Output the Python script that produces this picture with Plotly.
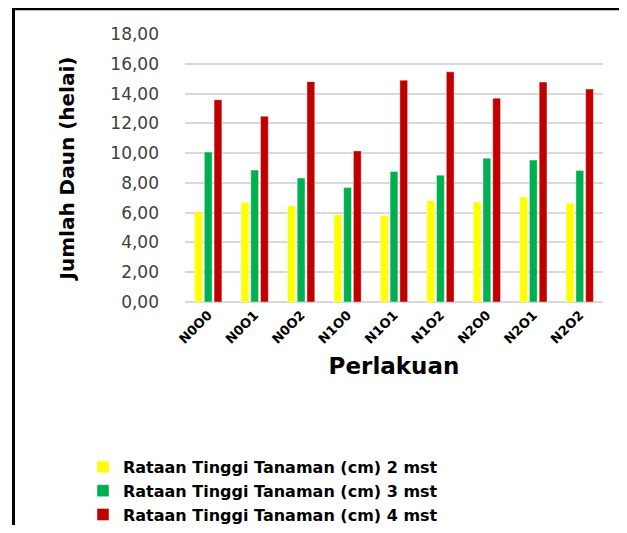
import plotly.graph_objects as go

categories = ["N0O0", "N0O1", "N0O2", "N1O0", "N1O1", "N1O2", "N2O0", "N2O1", "N2O2"]
mst2 = [6.07, 6.70, 6.46, 5.85, 5.78, 6.81, 6.72, 7.05, 6.65]
mst3 = [10.07, 8.86, 8.32, 7.69, 8.76, 8.52, 9.66, 9.53, 8.83]
mst4 = [13.58, 12.48, 14.80, 10.15, 14.90, 15.46, 13.69, 14.77, 14.30]
series_names = ["Rataan Tinggi Tanaman (cm) 2 mst",
                "Rataan Tinggi Tanaman (cm) 3 mst",
                "Rataan Tinggi Tanaman (cm) 4 mst"]
colors = ["#FFFF00", "#00B050", "#C00000"]
y_ticks = [0, 2, 4, 6, 8, 10, 12, 14, 16, 18]

# figure sits inside the page body (8px default margin)
W, H = 611, 517
L, R, T, B = 177, 16, 26, 223
pw = W - L - R
ph = H - T - B

def px(x):
    return (x - L) / pw

def py(y):
    return (H - B - y) / ph

FONT = "DejaVu Sans"

fig = go.Figure()
for name, vals, c in zip(series_names, [mst2, mst3, mst4], colors):
    fig.add_trace(go.Bar(x=categories, y=vals, name=name,
                         marker=dict(color=c, line=dict(color="rgba(255,255,255,0.7)", width=0.6))))

fig.update_layout(
    width=W, height=H,
    margin=dict(l=L, r=R, t=T, b=B, pad=0, autoexpand=False),
    paper_bgcolor="white", plot_bgcolor="white",
    separators=",.",
    barmode="group", bargap=0.37, bargroupgap=0.2,
    font=dict(family=FONT, color="#000000"),
    showlegend=True,
    legend=dict(x=px(75), y=py(442), xanchor="left", yanchor="top",
                orientation="v", traceorder="normal",
                font=dict(family=FONT, size=16, color="#000000", weight="bold"),
                itemwidth=30, bgcolor="rgba(0,0,0,0)"),
    xaxis=dict(tickangle=-45, showgrid=False, showline=False, ticks="",
               ticklabelstandoff=2,
               tickfont=dict(family=FONT, size=13, color="#000000", weight="bold"),
               title=dict(text="Perlakuan", standoff=12,
                          font=dict(family=FONT, size=23, color="#000000", weight="bold"))),
    yaxis=dict(range=[0, 18], tickvals=y_ticks, tickformat=".2f",
               showgrid=True, gridcolor="#D9D9D9", gridwidth=1.5,
               zeroline=True, zerolinecolor="#D9D9D9", zerolinewidth=1.5,
               showline=False, ticks="", ticklabelstandoff=25,
               tickfont=dict(family=FONT, size=17, color="#404040"),
               title=dict(text="Jumlah Daun (helai)", standoff=30,
                          font=dict(family=FONT, size=20, color="#000000", weight="bold"))),
    shapes=[
        dict(type="line", xref="paper", yref="paper", x0=px(4), x1=px(W), y0=py(1), y1=py(1),
             line=dict(color="#000000", width=2.5)),
        dict(type="line", xref="paper", yref="paper", x0=px(5.5), x1=px(5.5), y0=py(0), y1=py(H),
             line=dict(color="#000000", width=3)),
    ],
)

fig.write_html("out.html")
